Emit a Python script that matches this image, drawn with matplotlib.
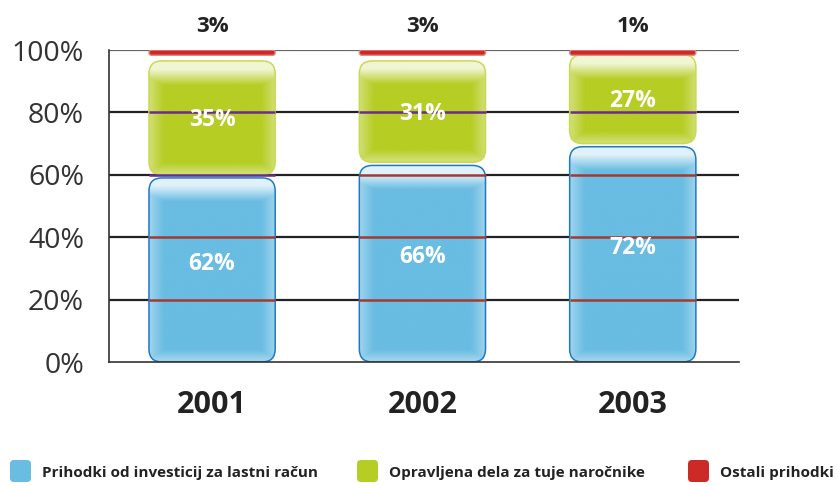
import numpy as np
import matplotlib
matplotlib.use("Agg")
import matplotlib.pyplot as plt
from matplotlib.patches import FancyBboxPatch
from matplotlib import font_manager as fm

# ---------------- data ----------------
years = ["2001", "2002", "2003"]
own_investments = [62, 66, 72]      # Prihodki od investicij za lastni račun
external_works = [35, 31, 27]       # Opravljena dela za tuje naročnike
other_income = [3, 3, 1]            # Ostali prihodki
yticks = [0, 20, 40, 60, 80, 100]
ytick_labels = ["0%", "20%", "40%", "60%", "80%", "100%"]
legend_labels = ["Prihodki od investicij za lastni račun",
                 "Opravljena dela za tuje naročnike",
                 "Ostali prihodki"]

BLUE, BLUE_E = "#69BCE2", "#1F7AC4"
GREEN, GREEN_E = "#B6CD24", "#C9DA52"
RED, RED_E = "#CC2A27", "#E58A80"

def has(f):
    try:
        fm.findfont(f, fallback_to_default=False)
        return True
    except Exception:
        return False

MAIN = "Open Sans" if has("Open Sans") else "DejaVu Sans"

fig = plt.figure(figsize=(8.38, 4.86), dpi=100)
W, H = 838, 486
ax = fig.add_axes([109 / W, 124 / H, 630 / W, 312 / H])
ax.set_xlim(-0.49, 2.505)
ax.set_ylim(0, 100)

x = np.arange(len(years))
bw = 0.6
px_x = 630 / (2.505 + 0.49)
px_y = 312 / 100
asp = px_x / px_y
R_PX = 13


def to_rgb(c):
    return np.array(matplotlib.colors.to_rgb(c))


def glossy_box(x0, y0, w, h, base, edge, z=2):
    r = min(R_PX / px_x, (h * px_y / 2) / px_x)
    style = f"round,pad=0,rounding_size={r}"
    p = FancyBboxPatch((x0, y0), w, h, boxstyle=style, mutation_aspect=asp,
                       fc="none", ec="none", zorder=z)
    ax.add_patch(p)
    hp = h * px_y
    ny, nx = max(int(hp), 4), 60
    yy = np.linspace(0, 1, ny)[:, None]          # 0 = top
    xx = np.linspace(0, 1, nx)[None, :]
    ypx = yy * hp
    top = np.clip(1 - (ypx - 8) / 16, 0, 1) * 0.8
    bot = np.clip(1 - ((hp - ypx) - 2) / 10, 0, 1) * 0.35
    side = np.clip(1 - np.minimum(xx, 1 - xx) * w * px_x / 14, 0, 1) * 0.35
    light = np.clip(np.maximum(np.maximum(top, bot), side), 0, 1)
    b = to_rgb(base)
    img = b[None, None, :] * (1 - light[..., None]) + light[..., None]
    im = ax.imshow(img, extent=(x0, x0 + w, y0, y0 + h), aspect="auto",
                   origin="upper", zorder=z, interpolation="bilinear")
    im.set_clip_path(p)
    e = FancyBboxPatch((x0, y0), w, h, boxstyle=style, mutation_aspect=asp,
                       fc="none", ec=edge, lw=1.1, zorder=z + 0.5)
    ax.add_patch(e)


# gridlines behind
for yv in yticks[1:]:
    ax.axhline(yv, color="#666666" if yv == 100 else "#222222",
               lw=1.6, zorder=1)

for i in range(len(years)):
    a, b, c = own_investments[i], external_works[i], other_income[i]
    x0 = x[i] - bw / 2
    glossy_box(x0, 0, bw, a - 3.0, BLUE, BLUE_E)
    glossy_box(x0, a - 2.0, bw, b + 1.5, GREEN, GREEN_E)
    ax.add_patch(FancyBboxPatch((x0, 98.3), bw, 1.7,
                                boxstyle=f"round,pad=0,rounding_size={2.5 / px_x}",
                                mutation_aspect=asp, fc=RED, ec=RED_E, lw=1,
                                zorder=3))
    # overprinted gridlines
    for yv in yticks[1:-1]:
        col = "#A33A30" if yv < a - 2.5 else "#6A2C8E"
        ax.plot([x0, x0 + bw], [yv, yv], color=col, lw=1.8, zorder=3.6,
                solid_capstyle="butt")
    ax.text(x[i], a / 2 + 0.5, f"{a}%", ha="center", va="center", color="white",
            fontsize=16.5, fontweight="bold", family=MAIN, zorder=5)
    ax.text(x[i], a + b / 2 - 2.0, f"{b}%", ha="center", va="center", color="white",
            fontsize=16.5, fontweight="bold", family=MAIN, zorder=5)
    ax.text(x[i], 107.5, f"{c}%", ha="center", va="center", color="#222222",
            fontsize=16, fontweight="bold", family=MAIN, clip_on=False)

ax.set_xlim(-0.49, 2.505)
ax.set_ylim(0, 100)

for s in ["top", "right"]:
    ax.spines[s].set_visible(False)
ax.spines["left"].set_color("#333333")
ax.spines["bottom"].set_color("#333333")
ax.spines["left"].set_linewidth(1.2)
ax.spines["bottom"].set_linewidth(1.2)

ax.set_yticks(yticks)
ax.set_yticklabels(ytick_labels, fontsize=20.5, color="#333333", family=MAIN)
ax.tick_params(axis="y", length=0, pad=18)
ax.set_xticks(x)
ax.set_xticklabels(years, fontsize=22, fontweight="bold", color="#222222",
                   family=MAIN)
ax.tick_params(axis="x", length=0, pad=20)

# legend
leg_x = [10, 357, 688]
leg_colors = [BLUE, GREEN, RED]
for lx, lc, lab in zip(leg_x, leg_colors, legend_labels):
    p = FancyBboxPatch((lx / W, 1 - 482 / H), 21 / W, 22 / H,
                       boxstyle=f"round,pad=0,rounding_size={4 / W}",
                       mutation_aspect=W / H, fc=lc, ec="none",
                       transform=fig.transFigure)
    fig.patches.append(p)
    fig.text((lx + 32) / W, 1 - 473 / H, lab, ha="left", va="center",
             fontsize=11, fontweight="bold", color="#222222", family=MAIN)

fig.savefig("out.png", dpi=100)
